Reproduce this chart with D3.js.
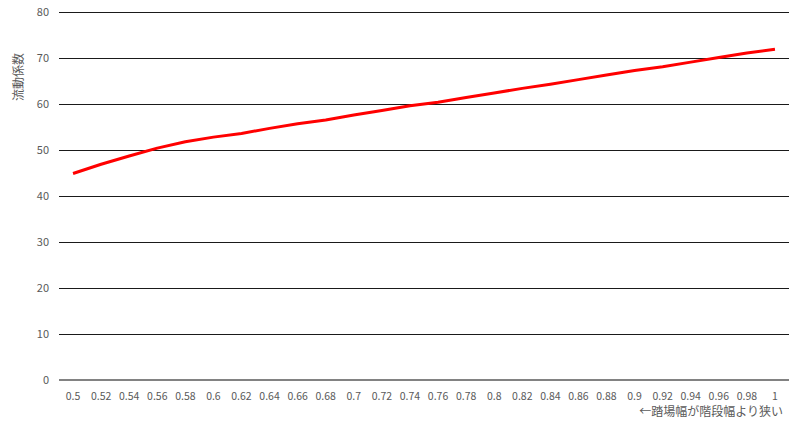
<!DOCTYPE html>
<html><head><meta charset="utf-8">
<script src="https://cdn.jsdelivr.net/npm/d3@7"></script>
<style>body{margin:0;background:#fff}svg{display:block}text{font-family:"Noto Sans CJK JP","Noto Sans",sans-serif;fill:#595959}</style>
</head><body>
<svg id="c" width="800" height="442"></svg>
<script>
const categories = ["0.5","0.52","0.54","0.56","0.58","0.6","0.62","0.64","0.66","0.68","0.7","0.72","0.74","0.76","0.78","0.8","0.82","0.84","0.86","0.88","0.9","0.92","0.94","0.96","0.98","1"];
const values = [44.9,46.9,48.7,50.4,51.8,52.8,53.6,54.7,55.7,56.5,57.6,58.6,59.6,60.4,61.4,62.4,63.4,64.3,65.3,66.3,67.3,68.1,69.1,70.1,71.1,71.9];
const yTicks = [0,10,20,30,40,50,60,70,80];
const yTitle = "流動係数";
const xTitle = "←踏場幅が階段幅より狭い";

const svg = d3.select("#c");
const L = 59, R = 789, T = 12, B = 380;
const x = d3.scalePoint().domain(categories).range([L, R]).padding(0.5);
const y = d3.scaleLinear().domain([0, 80]).range([B, T]);

svg.append("g").selectAll("line").data(yTicks.filter(d => d > 0)).join("line")
  .attr("x1", L).attr("x2", R).attr("y1", d => y(d)).attr("y2", d => y(d))
  .attr("stroke", "#1a1a1a").attr("stroke-width", 1).attr("shape-rendering", "crispEdges");
svg.append("line").attr("x1", L).attr("x2", R).attr("y1", y(0)).attr("y2", y(0))
  .attr("stroke", "#595959").attr("stroke-width", 1.5);

svg.append("g").selectAll("text").data(yTicks).join("text")
  .attr("x", 49).attr("y", d => y(d)).attr("dy", "0.35em").attr("text-anchor", "end")
  .attr("font-size", 11).text(d => d);

svg.append("g").selectAll("text").data(categories).join("text")
  .attr("x", d => x(d)).attr("y", 396).attr("dy", "0.35em").attr("text-anchor", "middle")
  .attr("font-size", 10.5).text(d => d);

svg.append("path").datum(values)
  .attr("fill", "none").attr("stroke", "#ff0000").attr("stroke-width", 3).attr("stroke-linejoin", "round")
  .attr("d", d3.line().x((d, i) => x(categories[i])).y(d => y(d)));

svg.append("text").attr("transform", "translate(19,77) rotate(-90)")
  .attr("text-anchor", "middle").attr("dy", "0.35em").attr("font-size", 12).text(yTitle);
svg.append("text").attr("x", 783).attr("y", 412).attr("dy", "0.35em")
  .attr("text-anchor", "end").attr("font-size", 12).text(xTitle);
</script>
</body></html>
